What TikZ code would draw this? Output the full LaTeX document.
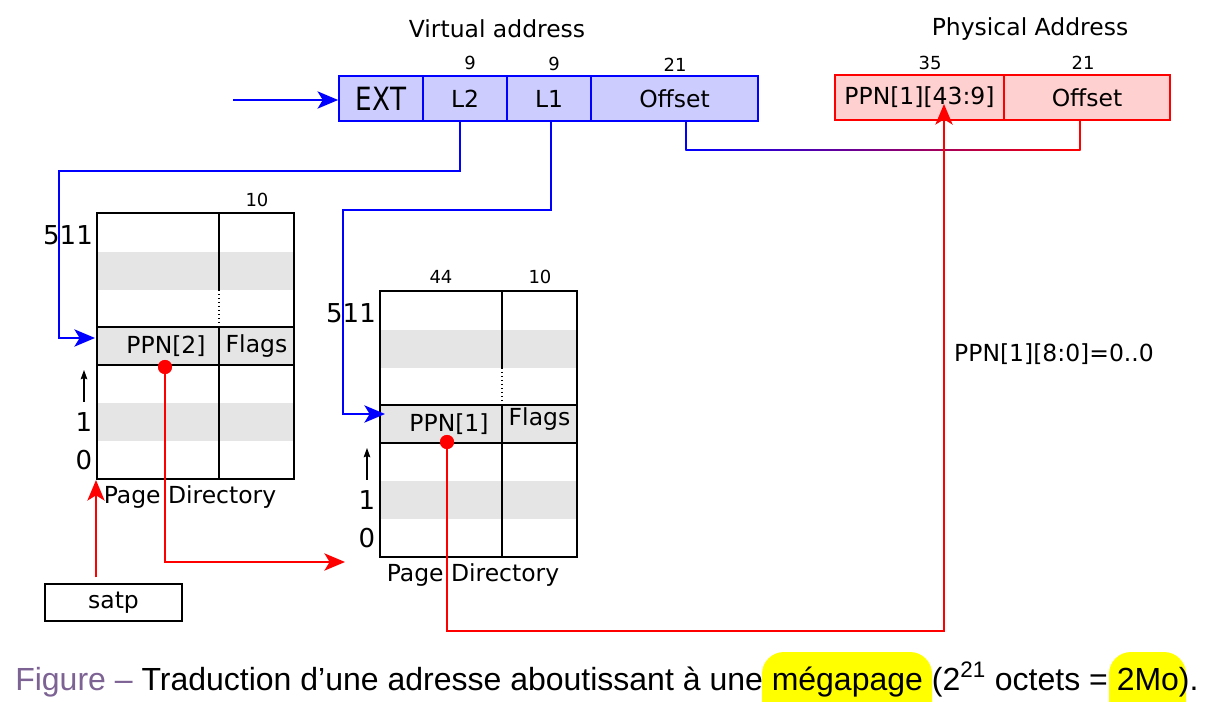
\documentclass[tikz,border=0pt]{standalone}
\usepackage{fontspec}
\setmainfont{DejaVu Sans}
\newfontfamily\capfont{Liberation Sans}
\usetikzlibrary{arrows.meta,calc}
\definecolor{vfill}{RGB}{204,204,255}
\definecolor{pfill}{RGB}{255,208,208}
\definecolor{band}{RGB}{229,229,229}
\definecolor{capname}{RGB}{125,98,148}
\definecolor{hl}{RGB}{255,255,0}
\newcommand\mainsz{\fontsize{17.6pt}{21pt}\selectfont}
\newcommand\idxsz{\fontsize{19.5pt}{23pt}\selectfont}
\newcommand\smallsz{\fontsize{13.5pt}{15pt}\selectfont}
\def\u{0.75pt}
\tikzset{
  vfield/.style={draw=blue, fill=vfill, line width=1.3pt, minimum height=45*\u, inner sep=0pt},
  pfield/.style={draw=red, fill=pfill, line width=1.3pt, minimum height=45*\u, inner sep=0pt},
  cell/.style={draw=black, fill=band, line width=1.5pt, minimum height=38*\u, inner sep=0pt},
  tabbox/.style={draw=black, line width=1.5pt, minimum width=197*\u, minimum height=266*\u, inner sep=0pt},
  lbl/.style={inner sep=0pt, font=\mainsz},
  idx/.style={inner sep=0pt, font=\idxsz},
  num/.style={inner sep=0pt, font=\smallsz},
  bluec/.style={draw=blue, line width=1.1pt},
  redc/.style={draw=red, line width=1.1pt},
  arr/.style={-{Stealth[length=15.5pt,width=13pt,inset=4pt]}},
  sarr/.style={-{Stealth[length=7pt,width=5pt,inset=1pt]}, line width=0.8pt},
  dot/.style={circle, fill=red, minimum size=14*\u, inner sep=0pt},
}
% #1 x0, #2 y0, #3 name, #4 ppn text, #5 flags y (relative)
\newcommand\pgtable[5]{%
\begin{scope}[shift={(#1,#2)}]
  \fill[band] (0,39) rectangle (197,77);
  \fill[band] (0,190) rectangle (197,228);
  \node[cell, minimum width=122*\u] (#3ppn) at (61,133) {};
  \node[cell, minimum width=75*\u] (#3flags) at (159.5,133) {};
  \node[lbl] (#3ppnt) at (69,133) {#4};
  \node[lbl] (#3flagst) at (159.5,#5) {Flags};
  \draw[line width=1.1pt] (122,0) -- (122,77);
  \draw[line width=1pt, dotted] (122,77) -- (122,114);
  \draw[line width=1.1pt] (122,152) -- (122,266);
  \node[tabbox] (#3) at (98.5,133) {};
  \node[idx] (#3top) at (-29,22) {511};
  \node[idx] (#3one) at (-13,209) {1};
  \node[idx] (#3zero) at (-13,247) {0};
  \draw[sarr] (-13,189) -- (-13,157);
  \node[lbl] (#3name) at (93,284) {Page Directory};
\end{scope}}
\begin{document}
\begin{tikzpicture}[x=0.75pt,y=-0.75pt]
\useasboundingbox (0,0) rectangle (1208,702);
\fill[white] (0,0) rectangle (1208,702);

% caption highlights
\begin{scope}
  \clip (0,0) rectangle (1208,702);
  \fill[hl, rounded corners=22*\u] (762,652) rectangle (932,730);
  \fill[hl, rounded corners=22*\u] (1109,652) rectangle (1186,730);
\end{scope}
\node[anchor=base west, inner sep=0pt, font=\capfont\fontsize{24pt}{28pt}\selectfont] (cap) at (15,690)
  {\textcolor{capname}{Figure –} Traduction d’une adresse aboutissant à une mégapage (2\textsuperscript{21} octets = 2Mo).};

% titles
\node[lbl] (vt) at (497,29) {Virtual address};
\node[lbl] (pt) at (1030,29) {Physical Address};

% virtual address
\node[vfield, minimum width=84*\u] (ext) at (381,98.5) {\scalebox{0.82}[1]{\fontsize{24pt}{27pt}\selectfont EXT}};
\node[vfield, minimum width=84*\u, font=\mainsz] (l2) at (465,98.5) {L2};
\node[vfield, minimum width=84*\u, font=\mainsz] (l1) at (549,98.5) {L1};
\node[vfield, minimum width=167*\u, font=\mainsz] (voff) at (674.5,98.5) {Offset};
\node[num] (n9a) at (470,63) {9};
\node[num] (n9b) at (554,64) {9};
\node[num] (n21a) at (675,65) {21};

% physical address
\node[pfield, minimum width=169*\u, font=\mainsz] (pppn) at (919.5,97.5) {PPN[1][43:9]};
\node[pfield, minimum width=166*\u, font=\mainsz] (poff) at (1087,97.5) {Offset};
\node[num] (n35) at (930,63) {35};
\node[num] (n21b) at (1083,63) {21};

% input arrow
\coordinate (in0) at (233,100);
\draw[bluec, arr] (in0) -- (in0 -| ext.west);

% tables
\pgtable{97}{213}{ta}{PPN[2]}{133}
\pgtable{380}{291}{tb}{PPN[1]}{128}
\node[num] (ta10) at (257,200) {10};
\node[num] (tb44) at (441,277) {44};
\node[num] (tb10) at (540,277) {10};

% satp
\node[draw, line width=1.1pt, minimum width=137*\u, minimum height=37*\u, inner sep=0pt, font=\mainsz] (satp) at (113.5,602.5) {satp};
\draw[redc, arr] ($(satp.north -| ta.south west)+(0,-6)$) -- (ta.south west);

% blue connectors
\coordinate (a2) at (95,338);
\draw[bluec, arr] ($(l2.south)+(-5,0)$) |- (59,171) |- (a2);
\coordinate (a1) at (385,414);
\draw[bluec, arr] ($(l1.south)+(2,0)$) |- (343,210) |- (a1);

% offset connector (blue to red)
\coordinate (ob) at (686,150);
\coordinate (or) at (1080,150);
\draw[bluec] ($(voff.south)+(11.5,0)$) -- (ob);
\draw[redc] ($(poff.south)+(-7,0)$) -- (or);
\shade[left color=blue, right color=red] ($(ob)+(-0.7,-0.73)$) rectangle ($(or)+(0.7,0.73)$);

% red connectors
\node[dot] (d1) at (165,367) {};
\node[dot] (d2) at (447,442) {};
\coordinate (e1) at (345,562);
\draw[redc, arr] (d1.center) |- (e1);
\coordinate (pa) at (944,104);
\draw[redc, arr] (d2.center) |- (944,631) -- (pa);
\node[dot] at (d1) {};
\node[dot] at (d2) {};

\node[lbl] (ppnz) at (1054,354) {PPN[1][8:0]=0..0};
\end{tikzpicture}
\end{document}
